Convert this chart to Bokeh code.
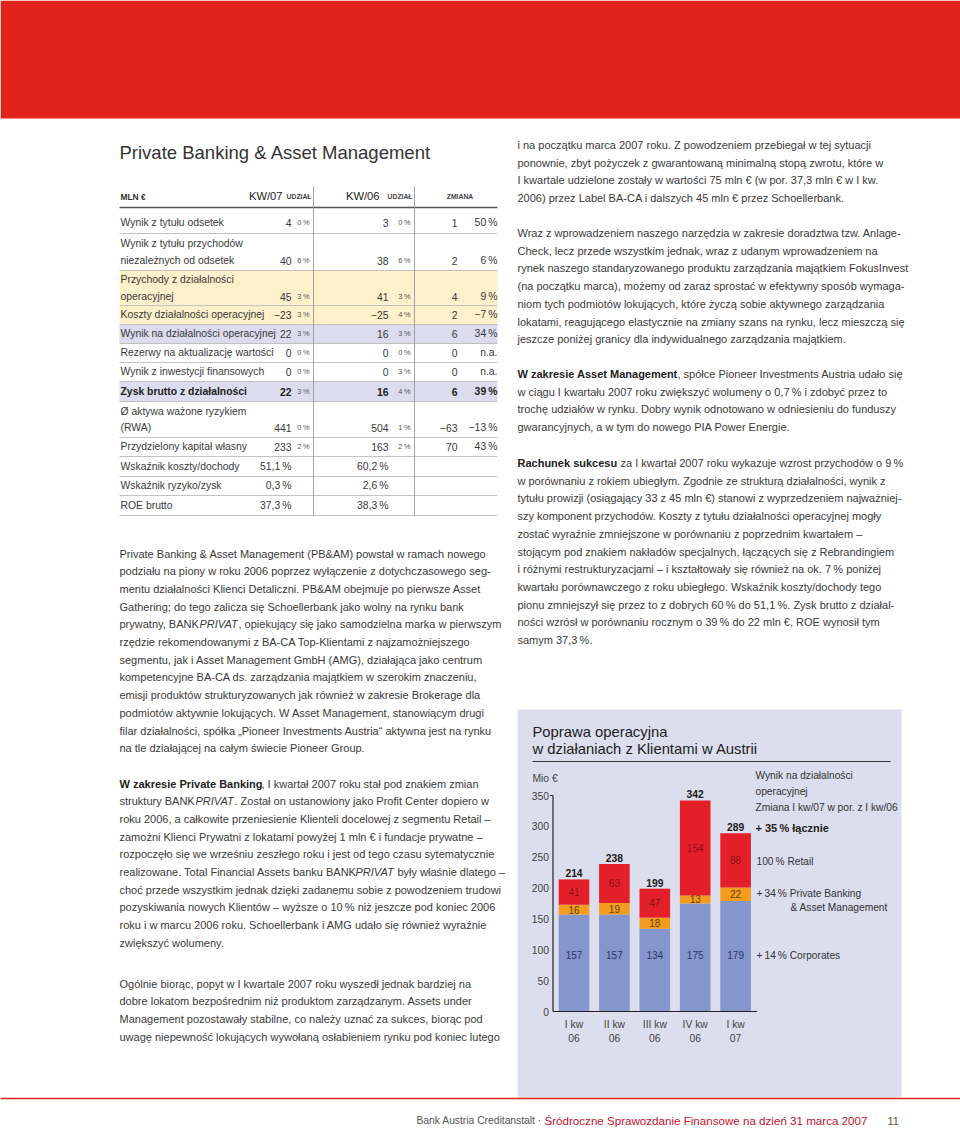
import math
from bokeh.plotting import figure
from bokeh.models import Range1d, ColumnDataSource
from bokeh.core.properties import value
from bokeh.embed import file_html
from bokeh.resources import INLINE

# ------------------------------------------------------------------ data
quarter_labels = ["I kw\n06", "II kw\n06", "III kw\n06", "IV kw\n06", "I kw\n07"]
corporates = [157, 157, 134, 175, 179]
private_banking_am = [16, 19, 18, 13, 22]
retail = [41, 63, 47, 154, 88]
totals = [214, 238, 199, 342, 289]
y_ticks = [0, 50, 100, 150, 200, 250, 300, 350]

chart_title = ["Poprawa operacyjna", "w działaniach z Klientami w Austrii"]
unit_label = "Mio €"
legend_head = ["Wynik na działalności", "operacyjnej", "Zmiana I kw/07 w por. z I kw/06"]
legend_total = "+ 35\u2009% łącznie"
legend_retail = "100\u2009% Retail"
legend_pbam = ["+\u200934\u2009% Private Banking", "& Asset Management"]
legend_corp = "+\u200914\u2009% Corporates"

page_title = "Private Banking & Asset Management"
table_header = ["MLN €", "KW/07", "UDZIAŁ", "KW/06", "UDZIAŁ", "ZMIANA"]
row_labels = [
    ["Wynik z tytułu odsetek"],
    ["Wynik z tytułu przychodów", "niezależnych od odsetek"],
    ["Przychody z działalności", "operacyjnej"],
    ["Koszty działalności operacyjnej"],
    ["Wynik na działalności operacyjnej"],
    ["Rezerwy na aktualizację wartości"],
    ["Wynik z inwestycji finansowych"],
    ["Zysk brutto z działalności"],
    ["Ø aktywa ważone ryzykiem", "(RWA)"],
    ["Przydzielony kapitał własny"],
    ["Wskaźnik koszty/dochody"],
    ["Wskaźnik ryzyko/zysk"],
    ["ROE brutto"],
]
kw07_values = ["4", "40", "45", "\u221223", "22", "0", "0", "22", "441", "233", "51,1\u2009%", "0,3\u2009%", "37,3\u2009%"]
kw07_share = ["0\u2009%", "6\u2009%", "3\u2009%", "3\u2009%", "3\u2009%", "0\u2009%", "0\u2009%", "3\u2009%", "0\u2009%", "2\u2009%", "", "", ""]
kw06_values = ["3", "38", "41", "\u221225", "16", "0", "0", "16", "504", "163", "60,2\u2009%", "2,6\u2009%", "38,3\u2009%"]
kw06_share = ["0\u2009%", "6\u2009%", "3\u2009%", "4\u2009%", "3\u2009%", "0\u2009%", "3\u2009%", "4\u2009%", "1\u2009%", "2\u2009%", "", "", ""]
change_abs = ["1", "2", "4", "2", "6", "0", "0", "6", "\u221263", "70", "", "", ""]
change_pct = ["50\u2009%", "6\u2009%", "9\u2009%", "\u22127\u2009%", "34\u2009%", "n.a.", "n.a.", "39\u2009%", "\u221213\u2009%", "43\u2009%", "", "", ""]
bold_rows = [7]
yellow_rows = [2, 3]
lavender_rows = [4, 7]

B, I = "bold", "italic"
left_text = [
    [
        "Private Banking & Asset Management (PB&AM) powstał w ramach nowego",
        "podziału na piony w roku 2006 poprzez wyłączenie z dotychczasowego seg-",
        "mentu działalności Klienci Detaliczni. PB&AM obejmuje po pierwsze Asset",
        "Gathering; do tego zalicza się Schoellerbank jako wolny na rynku bank",
        [("prywatny, BANK", "normal"), ("PRIVAT", I), (", opiekujący się jako samodzielna marka w pierwszym", "normal")],
        "rzędzie rekomendowanymi z BA-CA Top-Klientami z najzamożniejszego",
        "segmentu, jak i Asset Management GmbH (AMG), działająca jako centrum",
        "kompetencyjne BA-CA ds. zarządzania majątkiem w szerokim znaczeniu,",
        "emisji produktów strukturyzowanych jak również w zakresie Brokerage dla",
        "podmiotów aktywnie lokujących. W Asset Management, stanowiącym drugi",
        "filar działalności, spółka \u201ePioneer Investments Austria\u201c aktywna jest na rynku",
        "na tle działającej na całym świecie Pioneer Group.",
    ],
    [
        [("W zakresie Private Banking", B), (", I kwartał 2007 roku stał pod znakiem zmian", "normal")],
        [("struktury BANK", "normal"), ("PRIVAT", I), (". Został on ustanowiony jako Profit Center dopiero w", "normal")],
        "roku 2006, a całkowite przeniesienie Klienteli docelowej z segmentu Retail \u2013",
        "zamożni Klienci Prywatni z lokatami powyżej 1 mln € i fundacje prywatne \u2013",
        "rozpoczęło się we wrześniu zeszłego roku i jest od tego czasu sytematycznie",
        [("realizowane. Total Financial Assets banku BANK", "normal"), ("PRIVAT", I), (" były właśnie dlatego \u2013", "normal")],
        "choć przede wszystkim jednak dzięki zadanemu sobie z powodzeniem trudowi",
        "pozyskiwania nowych Klientów \u2013 wyższe o 10\u2009% niż jeszcze pod koniec 2006",
        "roku i w marcu 2006 roku. Schoellerbank i AMG udało się również wyraźnie",
        "zwiększyć wolumeny.",
    ],
    [
        "Ogólnie biorąc, popyt w I kwartale 2007 roku wyszedł jednak bardziej na",
        "dobre lokatom bezpośrednim niż produktom zarządzanym. Assets under",
        "Management pozostawały stabilne, co należy uznać za sukces, biorąc pod",
        "uwagę niepewność lokujących wywołaną osłabieniem rynku pod koniec lutego",
    ],
]
right_text = [
    [
        "i na początku marca 2007 roku. Z powodzeniem przebiegał w tej sytuacji",
        "ponownie, zbyt pożyczek z gwarantowaną minimalną stopą zwrotu, które w",
        "I kwartale udzielone zostały w wartości 75 mln € (w por. 37,3 mln € w I kw.",
        "2006) przez Label BA-CA i dalszych 45 mln € przez Schoellerbank.",
    ],
    [
        "Wraz z wprowadzeniem naszego narzędzia w zakresie doradztwa tzw. Anlage-",
        "Check, lecz przede wszystkim jednak, wraz z udanym wprowadzeniem na",
        "rynek naszego standaryzowanego produktu zarządzania majątkiem FokusInvest",
        "(na początku marca), możemy od zaraz sprostać w efektywny sposób wymaga-",
        "niom tych podmiotów lokujących, które życzą sobie aktywnego zarządzania",
        "lokatami, reagującego elastycznie na zmiany szans na rynku, lecz mieszczą się",
        "jeszcze poniżej granicy dla indywidualnego zarządzania majątkiem.",
    ],
    [
        [("W zakresie Asset Management", B), (", spółce Pioneer Investments Austria udało się", "normal")],
        "w ciągu I kwartału 2007 roku zwiększyć wolumeny o 0,7\u2009% i zdobyć przez to",
        "trochę udziałów w rynku. Dobry wynik odnotowano w odniesieniu do funduszy",
        "gwarancyjnych, a w tym do nowego PIA Power Energie.",
    ],
    [
        [("Rachunek sukcesu", B), (" za I kwartał 2007 roku wykazuje wzrost przychodów o 9\u2009%", "normal")],
        "w porównaniu z rokiem ubiegłym. Zgodnie ze strukturą działalności, wynik z",
        "tytułu prowizji (osiągający 33 z 45 mln €) stanowi z wyprzedzeniem najważniej-",
        "szy komponent przychodów. Koszty z tytułu działalności operacyjnej mogły",
        "zostać wyraźnie zmniejszone w porównaniu z poprzednim kwartałem \u2013",
        "stojącym pod znakiem nakładów specjalnych, łączących się z Rebrandingiem",
        "i różnymi restrukturyzacjami \u2013 i kształtowały się również na ok. 7\u2009% poniżej",
        "kwartału porównawczego z roku ubiegłego. Wskaźnik koszty/dochody tego",
        "pionu zmniejszył się przez to z dobrych 60\u2009% do 51,1\u2009%. Zysk brutto z działal-",
        "ności wzrósł w porównaniu rocznym o 39\u2009% do 22 mln €, ROE wynosił tym",
        "samym 37,3\u2009%.",
    ],
]
footer_grey = "Bank Austria Creditanstalt \u00b7"
footer_red = "Śródroczne Sprawozdanie Finansowe na dzień 31 marca 2007"
footer_page = "11"

# ------------------------------------------------------------------ styles / layout
FONT = "Liberation Sans"
TXT = "#3a3a3a"
RED = "#e2231d"
BAR_BLUE = "#8496cc"
BAR_ORANGE = "#f39c1f"
BAR_RED = "#e3202a"
BOX = "#dcdded"
YELLOW = "#fdf0cb"
LAV = "#dcdcee"

W, H = 960, 1128
X0, Y0 = 0, 0          # data coordinates equal screenshot pixels

p = figure(width=W, height=H, x_range=Range1d(X0, X0 + W), y_range=Range1d(Y0 + H, Y0),
           output_backend="svg", toolbar_location=None, min_border=0,
           x_axis_type=None, y_axis_type=None)
p.grid.visible = False
p.outline_line_color = None
p.background_fill_color = "white"
p.border_fill_color = "white"

# Arial/Liberation Sans advance widths (1/1000 em) for placing mixed-style runs
AW = {}
for chars, w in [("ijlłí'|", 222), (" ftI.,;:!/", 278), ("\u2009", 167), ("r()-[]\u201e\u201c\"", 333),
                 ("cćkvxyzżźsśJ", 500), ("abdeghnopquąęńó0123456789L€\u2013_?", 556),
                 ("+\u2212=", 584), ("FTZŻŹ", 611), ("ABEKPSŚVXY&", 667), ("CDHNRUwĆ", 722),
                 ("GOQÓØ", 778), ("mM", 833), ("%", 889), ("W", 944)]:
    for ch in chars:
        AW[ch] = w
BW = {"b": 611, "d": 611, "g": 611, "h": 611, "n": 611, "o": 611, "p": 611, "q": 611, "u": 611,
      "r": 389, "t": 333, "f": 333, "i": 278, "j": 278, "l": 278, "m": 889, "w": 778, "k": 556,
      "v": 556, "y": 556, "c": 556, "s": 556, "ś": 556, "ę": 556, "ł": 278, "ż": 500, "z": 500,
      "A": 722, "P": 667, "B": 722, "R": 722, "W": 944, "M": 833, " ": 278}


def tw(s, size, bold=False):
    # hinted renderers advance each glyph by a whole pixel
    tot = 0
    for ch in s:
        adv = (BW.get(ch, AW.get(ch, 556)) if bold else AW.get(ch, 556)) * size / 1000.0
        tot += math.floor(adv + 0.5)
    return tot


texts = {}


def put(x, y, s, size=11.0, style="normal", color=TXT, align="left"):
    key = (size, style, color, align)
    d = texts.setdefault(key, dict(x=[], y=[], text=[]))
    d["x"].append(x)
    d["y"].append(y)
    d["text"].append(s)


LEAD = 17.7
PSIZE = 11.0


def paragraph(x, y0, lines, size=PSIZE):
    for i, ln in enumerate(lines):
        y = y0 + i * LEAD
        if isinstance(ln, str):
            put(x, y, ln, size)
        else:
            cx = x
            for seg, st in ln:
                lead = len(seg) - len(seg.lstrip(" "))
                cx += lead * tw(" ", size)            # SVG collapses leading blanks
                seg = seg.lstrip(" ")
                put(cx, y, seg, size, st, "#222222" if st == "bold" else TXT)
                cx += tw(seg, size, st == "bold")


# ---------------- header band
p.quad(left=[X0], right=[X0 + W], top=[Y0], bottom=[118], fill_color=RED, line_color=None)

# ---------------- table
TL, TR = 119, 497
put(TL, 152, page_title, 18.5, color="#333333")
VL1, VL2 = 313, 414
C_V1, C_P1, C_V2, C_P2, C_A, C_C = 291, 309, 388, 410, 457, 497
TS = 10.4
row_text_y = [[222], [243, 260], [279, 296], [314], [333], [352], [371], [391], [411, 427], [446], [466], [485], [505]]
row_bottom = [233, 270, 305, 324, 343, 362, 381, 401, 437, 456, 476, 495, 515]
row_top = [207] + row_bottom[:-1]
for r in yellow_rows:
    p.quad(left=[TL], right=[TR], top=[row_top[r]], bottom=[row_bottom[r]], fill_color=YELLOW, line_color=None)
for r in lavender_rows:
    p.quad(left=[TL], right=[TR], top=[row_top[r]], bottom=[row_bottom[r]], fill_color=LAV, line_color=None)
p.segment(x0=[TL] * len(row_bottom), x1=[TR] * len(row_bottom), y0=row_bottom, y1=row_bottom,
          line_color="#b4b4b4", line_width=0.8)
p.segment(x0=[TL], x1=[TR], y0=[207], y1=[207], line_color="#555555", line_width=1.3)
p.segment(x0=[VL1, VL2], x1=[VL1, VL2], y0=[186, 186], y1=[515, 515], line_color="#9a9a9a", line_width=0.9)

put(TL + 1, 196, table_header[0], 8.4, "bold", "#333333")
put(C_V1 - 9, 195, table_header[1], 11.2, color="#222222", align="right")
put(C_P1 + 2, 196, table_header[2], 6.8, "bold", "#444444", align="right")
put(C_V2 - 9, 195, table_header[3], 11.2, color="#222222", align="right")
put(C_P2 + 2, 196, table_header[4], 6.8, "bold", "#444444", align="right")
put((VL2 + TR) / 2 + 4, 196, table_header[5], 6.8, "bold", "#444444", align="center")

for r, lab in enumerate(row_labels):
    st = "bold" if r in bold_rows else "normal"
    col = "#222222" if r in bold_rows else TXT
    ys = row_text_y[r]
    for ln, yy in zip(lab, ys):
        put(TL + 1, yy, ln, TS, st, col)
    yv = ys[-1]
    put(C_V1, yv, kw07_values[r], TS, st, col, "right")
    put(C_V2, yv, kw06_values[r], TS, st, col, "right")
    put(C_A, yv, change_abs[r], TS, st, col, "right")
    put(C_C, yv, change_pct[r], TS, st, col, "right")
    put(C_P1, yv, kw07_share[r], 7.4, color="#555555", align="right")
    put(C_P2, yv, kw06_share[r], 7.4, color="#555555", align="right")

# ---------------- text columns
for y0, lines in zip([553, 783, 983], left_text):
    paragraph(TL, y0, lines)
RX = 517
for y0, lines in zip([144.5, 232.5, 373.5, 462.5], right_text):
    paragraph(RX, y0, lines)

# ---------------- chart box
p.quad(left=[RX], right=[901], top=[709], bottom=[1097], fill_color=BOX, line_color=None)
put(532, 731, chart_title[0], 14.8, color="#222222")
put(532, 748.5, chart_title[1], 14.8, color="#222222")
p.segment(x0=[532], x1=[890], y0=[761], y1=[761], line_color="#333333", line_width=1.2)
put(532, 778, unit_label, 10.3, color="#444444")

ZERO_PX, TOP_PX = 1011.0, 795.0
PPU = (ZERO_PX - TOP_PX) / y_ticks[-1]          # pixels per Mio €
CAT0_PX, STEP_PX = 573.5, 40.4                  # first bar centre, bar pitch
p.extra_y_ranges = {"mio": Range1d(start=(ZERO_PX - (Y0 + H)) / PPU, end=(ZERO_PX - Y0) / PPU)}
p.extra_x_ranges = {"cat": Range1d(start=(X0 - CAT0_PX) / STEP_PX, end=(X0 + W - CAT0_PX) / STEP_PX)}
BAR_W = 30.6 / STEP_PX
AX_L = (552.5 - CAT0_PX) / STEP_PX
AX_R = (756.5 - CAT0_PX) / STEP_PX

idx = list(range(len(quarter_labels)))
pb_top = [c + b for c, b in zip(corporates, private_banking_am)]
rt_top = [t + r for t, r in zip(pb_top, retail)]
src = ColumnDataSource(dict(
    x=idx, corp=corporates, pb_top=pb_top, rt_top=rt_top,
    corp_txt=[str(v) for v in corporates], pb_txt=[str(v) for v in private_banking_am],
    rt_txt=[str(v) for v in retail], tot_txt=[str(v) for v in totals],
    pb_mid=[c + b / 2 for c, b in zip(corporates, private_banking_am)],
    rt_mid=[t + r / 2 for t, r in zip(pb_top, retail)],
    corp_lab_y=[91.0] * len(idx),
    tot_y=[t + 2.0 / PPU for t in rt_top],
    cat1=[q.split("\n")[0] for q in quarter_labels],
    cat2=[q.split("\n")[1] for q in quarter_labels],
    cat1_y=[-13.0 / PPU] * len(idx), cat2_y=[-26.5 / PPU] * len(idx),
))
kw = dict(x_range_name="cat", y_range_name="mio", source=src)
p.vbar(x="x", width=BAR_W, bottom=0, top="corp", fill_color=BAR_BLUE, line_color=None, **kw)
p.vbar(x="x", width=BAR_W, bottom="corp", top="pb_top", fill_color=BAR_ORANGE, line_color=None, **kw)
p.vbar(x="x", width=BAR_W, bottom="pb_top", top="rt_top", fill_color=BAR_RED, line_color=None, **kw)

p.segment(x0=[AX_L], x1=[AX_L], y0=[0], y1=[y_ticks[-1]], line_color="#222222", line_width=1.2,
          x_range_name="cat", y_range_name="mio")
p.segment(x0=[AX_L], x1=[AX_R], y0=[0], y1=[0], line_color="#222222", line_width=1.2,
          x_range_name="cat", y_range_name="mio")
p.segment(x0=[AX_L - 3 / STEP_PX], x1=[AX_L], y0=[y_ticks[-1]], y1=[y_ticks[-1]], line_color="#222222",
          line_width=1.0, x_range_name="cat", y_range_name="mio")
p.text(x=[AX_L - 4 / STEP_PX] * len(y_ticks), y=y_ticks, text=[str(t) for t in y_ticks],
       x_range_name="cat", y_range_name="mio", text_font=value(FONT), text_font_size="10.3px",
       text_color="#444444", text_align="right", text_baseline="middle")

common = dict(x_range_name="cat", y_range_name="mio", source=src, text_font=value(FONT),
              text_align="center")
p.text(x="x", y="corp_lab_y", text="corp_txt", text_font_size="10px", text_color="#2d3768",
       text_baseline="middle", **common)
p.text(x="x", y="pb_mid", text="pb_txt", text_font_size="10px", text_color="#6a4000",
       text_baseline="middle", **common)
p.text(x="x", y="rt_mid", text="rt_txt", text_font_size="10px", text_color="#8c1010",
       text_baseline="middle", **common)
p.text(x="x", y="tot_y", text="tot_txt", text_font_size="10.3px", text_font_style="bold",
       text_color="#1a1a1a", text_baseline="bottom", **common)
p.text(x="x", y="cat1_y", text="cat1", text_font_size="10.3px", text_color="#444444",
       text_baseline="middle", **common)
p.text(x="x", y="cat2_y", text="cat2", text_font_size="10.3px", text_color="#444444",
       text_baseline="middle", **common)

LX = 755
LS = 10.2
put(LX, 775, legend_head[0], LS, color="#333333")
put(LX, 791, legend_head[1], LS, color="#333333")
put(LX, 807, legend_head[2], LS, color="#333333")
put(LX, 827, legend_total, 11, "bold", "#222222")
put(LX + 1, 861, legend_retail, LS, color="#333333")
put(LX + 1, 893, legend_pbam[0], LS, color="#333333")
put(790, 907, legend_pbam[1], LS, color="#333333")
put(LX + 1, 955, legend_corp, LS, color="#333333")

# ---------------- footer
p.segment(x0=[X0], x1=[X0 + W], y0=[1098], y1=[1098], line_color=RED, line_width=1.3)
put(416, 1120, footer_grey, 10.3, color="#555555")
put(544, 1120, footer_red, 11.6, color="#c8102e")
put(887, 1120, footer_page, 11.0, color="#555555")

for (size, style, color, align), d in texts.items():
    p.text(x="x", y="y", text="text", source=ColumnDataSource(d), text_font=value(FONT),
           text_font_size=f"{size}px", text_font_style=style, text_color=color,
           text_align=align, text_baseline="middle")

open("out.html", "w").write(file_html(p, INLINE))
